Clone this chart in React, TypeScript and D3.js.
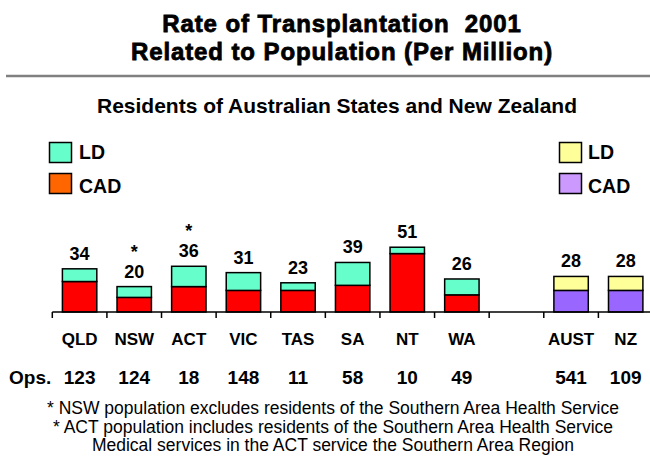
import React from "react";
import * as d3 from "d3";

const categories = ["QLD", "NSW", "ACT", "VIC", "TAS", "SA", "NT", "WA", "", "AUST", "NZ"];
const cadValues = [24, 11.5, 20, 17, 17, 21, 46, 13.5, null, 17, 17];
const ldValues = [10, 8.5, 16, 14, 6, 18, 5, 12.5, null, 11, 11];
const totals = [34, 20, 36, 31, 23, 39, 51, 26, null, 28, 28];
const ops = [123, 124, 18, 148, 11, 58, 10, 49, null, 541, 109];
const starred = ["NSW", "ACT"];
const nationalGroup = ["AUST", "NZ"];
const footnotes = [
  "* NSW population excludes residents of the Southern Area Health Service",
  "* ACT population includes residents of the Southern Area Health Service",
  "Medical services in the ACT service the Southern Area Region",
];

const FONT = "'Liberation Sans', Arial, Helvetica, sans-serif";

export default function App() {
  const W = 650, H = 456;
  const baseY = 312;
  const x = d3.scaleBand<string>()
    .domain(categories.map((c, i) => c || `gap${i}`))
    .range([52.3, 653])
    .paddingInner(0.37)
    .paddingOuter(0.185);
  const y = d3.scaleLinear().domain([0, 100]).range([baseY, 185]);
  const step = x.step();
  const x0 = 52.3;

  const colors = (cat: string) =>
    nationalGroup.includes(cat)
      ? { cad: "#9966FF", ld: "#FFFF99" }
      : { cad: "#FF0000", ld: "#66FFCC" };

  const titleStyle = { whiteSpace: "pre" as const, letterSpacing: "0.9px" };

  return (
    <svg width={W} height={H} style={{ position: "absolute", left: 0, top: 0, background: "#fff" }} fontFamily={FONT}>
      <rect width={W} height={H} fill="#fff" />
      <text x={342} y={32} textAnchor="middle" fontSize={24} fontWeight={900} stroke="#000" strokeWidth={0.8} style={titleStyle}>Rate of Transplantation  2001</text>
      <text x={342} y={60} textAnchor="middle" fontSize={24} fontWeight={900} stroke="#000" strokeWidth={0.8} style={titleStyle}>Related to Population (Per Million)</text>
      <line x1={6} x2={650} y1={76} y2={76} stroke="#808080" strokeWidth={2.5} />
      <text x={337} y={112.5} textAnchor="middle" fontSize={21} fontWeight="bold">Residents of Australian States and New Zealand</text>

      {/* Legends */}
      <rect x={49.5} y={142.5} width={22} height={20} fill="#66FFCC" stroke="#000" strokeWidth={1.5} />
      <text x={79} y={159} fontSize={19.5} fontWeight="bold">LD</text>
      <rect x={49.5} y={173.5} width={22} height={20} fill="#FF6600" stroke="#000" strokeWidth={1.5} />
      <text x={79} y={192.5} fontSize={19.5} fontWeight="bold">CAD</text>
      <rect x={559.5} y={142.5} width={22} height={20} fill="#FFFF99" stroke="#000" strokeWidth={1.5} />
      <text x={588} y={159} fontSize={19.5} fontWeight="bold">LD</text>
      <rect x={559.5} y={173.5} width={22} height={20} fill="#CC99FF" stroke="#000" strokeWidth={1.5} />
      <text x={588} y={192.5} fontSize={19.5} fontWeight="bold">CAD</text>

      {/* Bars */}
      {categories.map((cat, i) => {
        const cad = cadValues[i];
        const ld = ldValues[i];
        if (cad == null || ld == null) return null;
        const key = cat || `gap${i}`;
        const bx = x(key)!;
        const bw = x.bandwidth();
        const c = colors(cat);
        const topY = y(cad + ld);
        const midY = y(cad);
        const cx = bx + bw / 2;
        return (
          <g key={key}>
            <rect x={bx} y={midY} width={bw} height={baseY - midY} fill={c.cad} stroke="#000" strokeWidth={1.5} />
            <rect x={bx} y={topY} width={bw} height={midY - topY} fill={c.ld} stroke="#000" strokeWidth={1.5} />
            <text x={cx} y={topY - 9} textAnchor="middle" fontSize={18} fontWeight="bold">{totals[i]}</text>
            {starred.includes(cat) && (
              <text x={cx} y={topY - 29} textAnchor="middle" fontSize={18} fontWeight="bold">*</text>
            )}
          </g>
        );
      })}

      {/* Axis */}
      <line x1={x0} x2={650} y1={baseY} y2={baseY} stroke="#000" strokeWidth={1.5} />
      {d3.range(categories.length).map((i) => (
        <line key={i} x1={x0 + i * step} x2={x0 + i * step} y1={baseY} y2={baseY + 6} stroke="#000" strokeWidth={1.5} />
      ))}

      {categories.map((cat, i) => {
        if (!cat) return null;
        const cx = x(cat)! + x.bandwidth() / 2;
        return (
          <g key={`lbl${i}`}>
            <text x={cx} y={345} textAnchor="middle" fontSize={17} fontWeight="bold">{cat}</text>
            <text x={cx} y={383.5} textAnchor="middle" fontSize={19} fontWeight="bold">{ops[i]}</text>
          </g>
        );
      })}
      <text x={9} y={383.5} fontSize={19} fontWeight="bold">Ops.</text>

      {footnotes.map((f, i) => (
        <text key={i} x={333} y={414 + i * 18.5} textAnchor="middle" fontSize={17.5}>{f}</text>
      ))}
    </svg>
  );
}
